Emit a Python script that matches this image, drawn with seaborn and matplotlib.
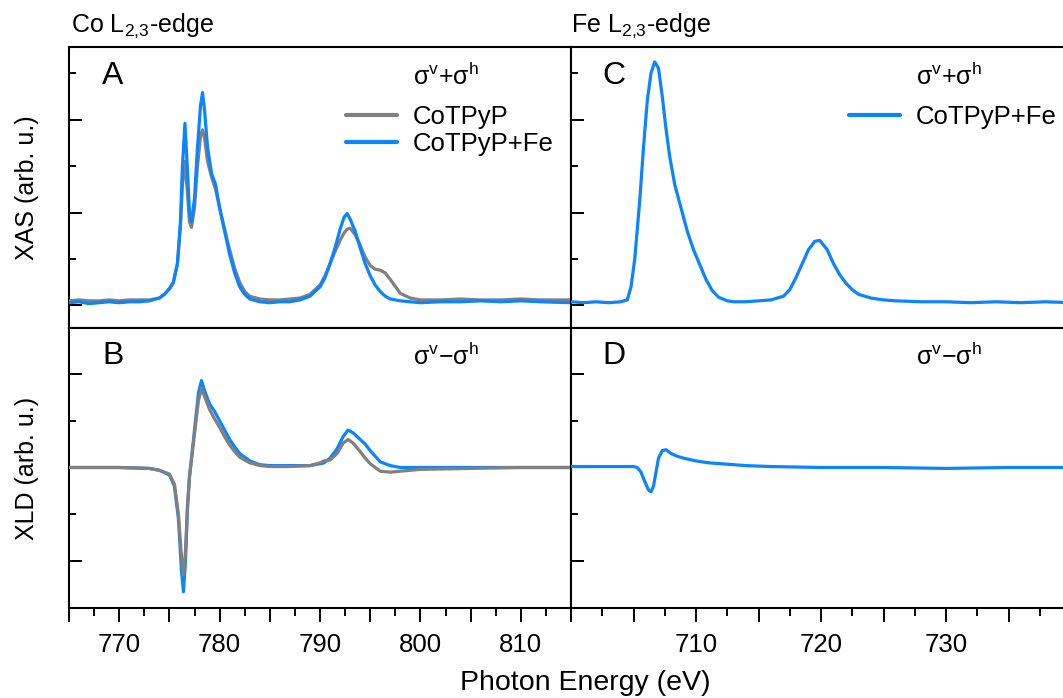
import numpy as np
import matplotlib
matplotlib.use("Agg")
import matplotlib.pyplot as plt
from matplotlib.ticker import MultipleLocator
import seaborn as sns

# Co L2,3 XAS (panel A)
co_e = [765, 766, 767, 768, 769, 770, 771, 772, 773, 774, 774.5, 775, 775.4, 775.8,
        776.1, 776.3, 776.55, 776.8, 777.0, 777.2, 777.5, 777.8, 778.1, 778.3, 778.5,
        778.8, 779.2, 779.6, 780.0, 780.5, 781.0, 781.5, 782.0, 782.5, 783, 784, 785,
        786, 787, 788, 789, 790, 790.5, 791, 791.5, 792, 792.4, 792.7, 793.0, 793.5,
        794, 794.5, 795, 795.5, 796, 796.5, 797, 798, 799, 800, 802, 804, 806, 808,
        810, 812, 815]
co_xas_fe = [0.03, 0.04, 0.02, 0.03, 0.04, 0.03, 0.04, 0.04, 0.05, 0.08, 0.12, 0.18, 0.25,
             0.45, 0.9, 1.5, 1.96, 1.45, 1.0, 0.9, 1.15, 1.7, 2.15, 2.29, 2.1, 1.7, 1.42,
             1.3, 1.05, 0.8, 0.55, 0.35, 0.2, 0.12, 0.07, 0.04, 0.03, 0.04, 0.04, 0.06,
             0.1, 0.2, 0.3, 0.45, 0.62, 0.82, 0.95, 0.99, 0.93, 0.8, 0.62, 0.45, 0.32,
             0.22, 0.15, 0.1, 0.07, 0.05, 0.04, 0.03, 0.04, 0.04, 0.05, 0.04, 0.05, 0.04,
             0.03]
co_xas_pure = [0.05, 0.06, 0.05, 0.05, 0.06, 0.05, 0.06, 0.06, 0.06, 0.08, 0.12, 0.18, 0.25,
               0.45, 0.85, 1.3, 1.55, 1.2, 0.9, 0.84, 1.05, 1.5, 1.82, 1.89, 1.8, 1.55,
               1.38, 1.25, 1.05, 0.82, 0.6, 0.4, 0.25, 0.15, 0.1, 0.07, 0.06, 0.06, 0.07,
               0.08, 0.12, 0.22, 0.32, 0.45, 0.58, 0.7, 0.78, 0.82, 0.83, 0.76, 0.65,
               0.52, 0.43, 0.39, 0.38, 0.35, 0.28, 0.13, 0.08, 0.06, 0.06, 0.07, 0.06,
               0.06, 0.07, 0.06, 0.06]

# Co L2,3 XLD (panel B)
co_xld_e = [765, 770, 773, 774, 775, 775.5, 775.9, 776.2, 776.4, 776.6, 776.8, 777.0,
            777.3, 777.6, 777.9, 778.2, 778.5, 779, 779.5, 780, 780.5, 781, 781.5, 782,
            783, 784, 785, 787, 789, 790, 790.4, 791, 791.7, 792.3, 792.8, 793.3, 794,
            794.5, 795, 795.5, 796, 797, 798, 800, 805, 810, 815]
co_xld_fe = [0.0, 0.0, -0.01, -0.03, -0.08, -0.2, -0.55, -1.1, -1.33, -1.0, -0.45, -0.1,
             0.2, 0.5, 0.8, 0.93, 0.82, 0.68, 0.6, 0.5, 0.4, 0.3, 0.22, 0.15, 0.07,
             0.03, 0.02, 0.02, 0.02, 0.04, 0.05, 0.1, 0.2, 0.33, 0.4, 0.37, 0.3, 0.25,
             0.18, 0.12, 0.06, 0.02, 0.0, 0.0, 0.0, 0.0, 0.0]
co_xld_pure = [0.0, 0.0, -0.01, -0.03, -0.07, -0.18, -0.5, -0.95, -1.15, -0.9, -0.4,
               -0.1, 0.18, 0.45, 0.72, 0.84, 0.76, 0.62, 0.52, 0.43, 0.33, 0.24, 0.17,
               0.11, 0.05, 0.02, 0.01, 0.01, 0.02, 0.05, 0.07, 0.08, 0.15, 0.26, 0.3,
               0.26, 0.17, 0.1, 0.04, 0.0, -0.04, -0.05, -0.04, -0.02, -0.01, 0.0, 0.0]

# Fe L2,3 XAS (panel C)
fe_e = [700, 701, 702, 703, 704, 704.5, 704.8, 705.1, 705.5, 705.8, 706.1, 706.4, 706.7,
        707.0, 707.3, 707.6, 707.9, 708.3, 708.8, 709.3, 709.8, 710.3, 710.8, 711.3,
        711.8, 712.5, 713, 714, 715, 716, 717, 717.5, 718, 718.5, 719, 719.5, 719.9,
        720.5, 721, 721.5, 722, 722.5, 723, 724, 725, 726, 728, 730, 732, 734, 736,
        738, 740]
fe_xas = [0.04, 0.03, 0.04, 0.03, 0.04, 0.06, 0.2, 0.5, 1.13, 1.7, 2.2, 2.5, 2.62, 2.55,
          2.25, 1.9, 1.6, 1.3, 1.05, 0.8, 0.6, 0.44, 0.28, 0.16, 0.09, 0.05, 0.04, 0.04,
          0.05, 0.06, 0.1, 0.17, 0.3, 0.45, 0.6, 0.69, 0.7, 0.6, 0.45, 0.33, 0.24, 0.17,
          0.12, 0.08, 0.06, 0.05, 0.04, 0.04, 0.03, 0.04, 0.03, 0.04, 0.03]

# Fe L2,3 XLD (panel D)
fe_xld_e = [700, 702, 704, 705, 705.3, 705.6, 705.9, 706.2, 706.4, 706.6, 706.8, 707.0,
            707.3, 707.6, 708, 708.5, 709, 710, 711, 712, 714, 716, 720, 725, 730, 735,
            740]
fe_xld = [0.01, 0.01, 0.01, 0.01, 0.0, -0.05, -0.15, -0.24, -0.26, -0.2, -0.05, 0.1,
          0.18, 0.19, 0.15, 0.12, 0.1, 0.07, 0.05, 0.04, 0.02, 0.01, 0.0, 0.0, -0.01,
          0.0, 0.0]

BLUE = "#0a84ff"
GRAY = "#808080"
W, H = 1063, 698

sns.set_style("ticks")
plt.rcParams["font.family"] = ["Liberation Sans", "DejaVu Sans"]
plt.rcParams["mathtext.fontset"] = "custom"
plt.rcParams["mathtext.rm"] = "Liberation Sans"
plt.rcParams["mathtext.it"] = "Liberation Sans:italic"
for key in ("text.color", "axes.labelcolor", "xtick.color", "ytick.color", "axes.edgecolor"):
    plt.rcParams[key] = "black"

fig = plt.figure(figsize=(W / 100, H / 100), dpi=100)


def px_axes(x0, y0, x1, y1):
    return fig.add_axes([x0 / W, 1 - y1 / H, (x1 - x0) / W, (y1 - y0) / H])


axA = px_axes(69, 47, 571, 328)
axB = px_axes(69, 328, 571, 608)
axC = px_axes(571, 47, 1071, 328)
axD = px_axes(571, 328, 1071, 608)

lw = 2.3
sns.lineplot(x=co_e, y=co_xas_pure, ax=axA, color=GRAY, lw=lw, estimator=None, label="CoTPyP")
sns.lineplot(x=co_e, y=co_xas_fe, ax=axA, color=BLUE, lw=lw, estimator=None, label="CoTPyP+Fe")
sns.lineplot(x=co_xld_e, y=co_xld_fe, ax=axB, color=BLUE, lw=lw, estimator=None)
sns.lineplot(x=co_xld_e, y=co_xld_pure, ax=axB, color=GRAY, lw=lw, estimator=None)
sns.lineplot(x=fe_e, y=fe_xas, ax=axC, color=BLUE, lw=lw, estimator=None, label="CoTPyP+Fe")
sns.lineplot(x=fe_xld_e, y=fe_xld, ax=axD, color=BLUE, lw=lw, estimator=None)

for ax in (axA, axC):
    ax.set_ylim(-0.242, 2.78)
for ax in (axB, axD):
    ax.set_ylim(-1.503, 1.492)
for ax in (axA, axB):
    ax.set_xlim(765, 815)
for ax in (axC, axD):
    ax.set_xlim(700, 740)

for ax in (axA, axB, axC, axD):
    for s in ax.spines.values():
        s.set_linewidth(1.5)
        s.set_color("black")
    ax.yaxis.set_major_locator(MultipleLocator(1))
    ax.yaxis.set_minor_locator(MultipleLocator(0.5))
    ax.xaxis.set_major_locator(MultipleLocator(5))
    ax.xaxis.set_minor_locator(MultipleLocator(2.5))
    ax.tick_params(axis="y", which="major", direction="in", length=9.5, width=1.4,
                   left=True, right=False, labelleft=False, color="black")
    ax.tick_params(axis="y", which="minor", direction="in", length=5, width=1.4,
                   left=True, right=False, color="black")
    ax.tick_params(axis="x", which="major", direction="out", length=10, width=1.4,
                   labelsize=18.5, pad=8, color="black", labelcolor="black")
    ax.tick_params(axis="x", which="minor", direction="out", length=5.5, width=1.4,
                   color="black")
    ax.set_xlabel("")
    ax.set_ylabel("")
    for line in ax.get_lines():
        line.set_zorder(3)

for ax in (axA, axC):
    ax.tick_params(axis="x", which="both", bottom=False, labelbottom=False)

axB.set_xticks([765, 770, 775, 780, 785, 790, 795, 800, 805, 810, 815])
axB.set_xticklabels(["", "770", "", "780", "", "790", "", "800", "", "810", ""])
axD.set_xticks([700, 705, 710, 715, 720, 725, 730, 735, 740])
axD.set_xticklabels(["", "", "710", "", "720", "", "730", "", ""])

# legends
legA = axA.legend(loc="upper left", bbox_to_anchor=(346 / W, 1 - 105 / H),
                  bbox_transform=fig.transFigure, frameon=False, fontsize=18.5,
                  handlelength=2.0, handletextpad=0.6, labelspacing=0.1, borderpad=0,
                  borderaxespad=0, labelcolor="black")
legC = axC.legend(loc="upper left", bbox_to_anchor=(849 / W, 1 - 105 / H),
                  bbox_transform=fig.transFigure, frameon=False, fontsize=18.5,
                  handlelength=2.0, handletextpad=0.6, borderpad=0, borderaxespad=0,
                  labelcolor="black")
for leg in (legA, legC):
    for h in leg.get_lines():
        h.set_linewidth(3)


def ftext(x, y, s, **kw):
    fig.text(x / W, 1 - y / H, s, color="black", **kw)


plus = r"σ$^\mathrm{v}$+σ$^\mathrm{h}$"
minus = r"σ$^\mathrm{v}$−σ$^\mathrm{h}$"
ftext(413, 76, plus, fontsize=18, va="center")
ftext(916, 76, plus, fontsize=18, va="center")
ftext(413, 356, minus, fontsize=18, va="center")
ftext(916, 356, minus, fontsize=18, va="center")

for lab, x, y in (("A", 102, 76), ("B", 102, 356), ("C", 602, 76), ("D", 602, 356)):
    ftext(x, y, lab, fontsize=23, va="center")

ftext(71, 26, r"Co L$_\mathrm{2{,}3}$-edge", fontsize=18, va="center")
ftext(571, 26, r"Fe L$_\mathrm{2{,}3}$-edge", fontsize=18, va="center")
ftext(27, 188, "XAS (arb. u.)", fontsize=18, rotation=90, va="center", ha="center")
ftext(27, 468, "XLD (arb. u.)", fontsize=18, rotation=90, va="center", ha="center")
ftext(585, 683, "Photon Energy (eV)", fontsize=20.5, va="center", ha="center")

fig.savefig("out.png", dpi=100)
